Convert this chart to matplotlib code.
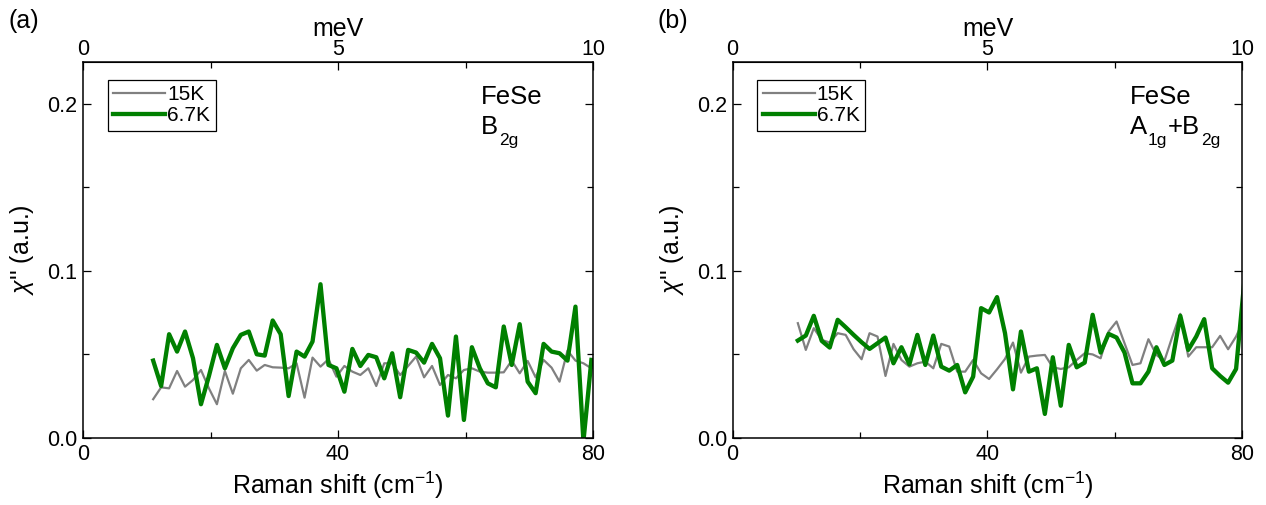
import matplotlib
matplotlib.use("Agg")
import matplotlib.pyplot as plt
from matplotlib.ticker import FixedLocator, FormatStrFormatter

plt.rcParams["font.family"] = ["Liberation Sans", "DejaVu Sans"]
plt.rcParams["mathtext.fontset"] = "custom"
plt.rcParams["mathtext.rm"] = "Liberation Sans"
plt.rcParams["mathtext.it"] = "Liberation Sans:italic"

# ── Panel (a): B2g ──────────────────────────────────────────────────────────
shift_a = [11.0, 12.25, 13.5, 14.75, 16.0, 17.25, 18.5, 19.75, 21.0, 22.25,
           23.5, 24.75, 26.0, 27.25, 28.5, 29.75, 31.0, 32.25, 33.5, 34.75,
           36.0, 37.25, 38.5, 39.75, 41.0, 42.25, 43.5, 44.75, 46.0, 47.25,
           48.5, 49.75, 51.0, 52.25, 53.5, 54.75, 56.0, 57.25, 58.5, 59.75,
           61.0, 62.25, 63.5, 64.75, 66.0, 67.25, 68.5, 69.75, 71.0, 72.25,
           73.5, 74.75, 76.0, 77.25, 78.5, 79.75]
chi_a_15K = [0.0232, 0.0303, 0.0297, 0.0401, 0.0307, 0.0347, 0.0407, 0.0297, 0.0202, 0.0401,
             0.0265, 0.0417, 0.0467, 0.0403, 0.0437, 0.0423, 0.0421, 0.0417, 0.0447, 0.0241,
             0.0481, 0.0427, 0.0471, 0.0367, 0.0431, 0.0397, 0.0377, 0.0417, 0.0311, 0.0447,
             0.0447, 0.0377, 0.0431, 0.0487, 0.0363, 0.0431, 0.0317, 0.0377, 0.0357, 0.0407,
             0.0417, 0.0397, 0.0391, 0.0391, 0.0393, 0.0463, 0.0387, 0.0461, 0.0363, 0.0467,
             0.0421, 0.0337, 0.0523, 0.0463, 0.0447, 0.0417]
chi_a_67K = [0.0463, 0.0311, 0.0621, 0.0517, 0.0637, 0.0477, 0.0202, 0.0371, 0.0557, 0.0417,
             0.0537, 0.0617, 0.0637, 0.0501, 0.0493, 0.0703, 0.0621, 0.0251, 0.0517, 0.0487,
             0.0577, 0.0920, 0.0437, 0.0417, 0.0277, 0.0533, 0.0431, 0.0497, 0.0483, 0.0357,
             0.0507, 0.0244, 0.0527, 0.0511, 0.0451, 0.0563, 0.0477, 0.0134, 0.0607, 0.0108,
             0.0543, 0.0417, 0.0327, 0.0303, 0.0667, 0.0437, 0.0681, 0.0337, 0.0268, 0.0563,
             0.0517, 0.0507, 0.0463, 0.0786, -0.0020, 0.0467]

# ── Panel (b): A1g+B2g ──────────────────────────────────────────────────────
shift_b = [10.25, 11.5, 12.75, 14.0, 15.25, 16.5, 17.75, 19.0, 20.25, 21.5,
           22.75, 24.0, 25.25, 26.5, 27.75, 29.0, 30.25, 31.5, 32.75, 34.0,
           35.25, 36.5, 37.75, 39.0, 40.25, 41.5, 42.75, 44.0, 45.25, 46.5,
           47.75, 49.0, 50.25, 51.5, 52.75, 54.0, 55.25, 56.5, 57.75, 59.0,
           60.25, 61.5, 62.75, 64.0, 65.25, 66.5, 67.75, 69.0, 70.25, 71.5,
           72.75, 74.0, 75.25, 76.5, 77.75, 79.0, 80.25]
chi_b_15K = [0.0687, 0.0527, 0.0657, 0.0587, 0.0571, 0.0627, 0.0617, 0.0531, 0.0471, 0.0627,
             0.0607, 0.0371, 0.0563, 0.0467, 0.0427, 0.0447, 0.0457, 0.0417, 0.0563, 0.0547,
             0.0397, 0.0397, 0.0467, 0.0387, 0.0353, 0.0411, 0.0473, 0.0571, 0.0391, 0.0487,
             0.0493, 0.0497, 0.0423, 0.0413, 0.0423, 0.0467, 0.0507, 0.0500, 0.0477, 0.0637,
             0.0697, 0.0567, 0.0437, 0.0447, 0.0591, 0.0497, 0.0461, 0.0607, 0.0743, 0.0487,
             0.0543, 0.0543, 0.0543, 0.0611, 0.0531, 0.0607, 0.0711]
chi_b_67K = [0.0583, 0.0613, 0.0731, 0.0581, 0.0541, 0.0707, 0.0663, 0.0617, 0.0573, 0.0533,
             0.0567, 0.0601, 0.0447, 0.0543, 0.0441, 0.0617, 0.0437, 0.0613, 0.0427, 0.0403,
             0.0437, 0.0273, 0.0367, 0.0777, 0.0751, 0.0843, 0.0627, 0.0291, 0.0637, 0.0397,
             0.0417, 0.0144, 0.0483, 0.0193, 0.0557, 0.0423, 0.0451, 0.0737, 0.0511, 0.0623,
             0.0601, 0.0511, 0.0327, 0.0327, 0.0397, 0.0543, 0.0437, 0.0463, 0.0731, 0.0527,
             0.0607, 0.0711, 0.0417, 0.0371, 0.0331, 0.0413, 0.0920]

# tick positions
shift_major = [0, 40, 80]
shift_minor = [20, 60]
mev_major = [0, 5, 10]
mev_minor = [2.5, 7.5]
chi_major = [0.0, 0.1, 0.2]
chi_minor = [0.05, 0.15]

TICK_FS = 15.5
LABEL_FS = 18
SYM_FS = 18.5
SUB_FS = 12.5

# glyph advance widths (em) for Liberation Sans, used to chain the symmetry label
GLYPH_W = {"A": 0.667, "B": 0.667, "+": 0.584, "1": 0.556, "2": 0.556, "g": 0.556}


def symmetry_label(ax, x, y, parts):
    """Write e.g. A_1g+B_2g as a chain of normal/subscript pieces."""
    offset = 0.0
    for txt, is_sub in parts:
        fs = SUB_FS if is_sub else SYM_FS
        ax.annotate(txt, xy=(x, y), xycoords="axes fraction",
                    xytext=(offset, -7.5 if is_sub else 0), textcoords="offset points",
                    fontsize=fs, va="baseline", ha="left")
        offset += sum(GLYPH_W[c] for c in txt) * fs + 0.5


def draw_panel(ax, x, y_hi, y_lo, sym_parts, tag):
    ax.plot(x, y_hi, color="#808080", lw=1.6, label="15K")
    ax.plot(x, y_lo, color="#008000", lw=3.1, label="6.7K")

    ax.set_xlim(0, 80)
    ax.set_ylim(0, 0.225)
    ax.xaxis.set_major_locator(FixedLocator(shift_major))
    ax.xaxis.set_minor_locator(FixedLocator(shift_minor))
    ax.yaxis.set_major_locator(FixedLocator(chi_major))
    ax.yaxis.set_minor_locator(FixedLocator(chi_minor))
    ax.yaxis.set_major_formatter(FormatStrFormatter("%.1f"))
    ax.tick_params(which="both", direction="in", right=True, top=False,
                   labelsize=TICK_FS, width=0.9, pad=4)
    ax.tick_params(which="major", length=6)
    ax.tick_params(which="minor", length=4)
    for sp in ax.spines.values():
        sp.set_linewidth(1.1)

    ax.set_xlabel(r"Raman shift (cm$^{\mathregular{-1}}$)", fontsize=LABEL_FS, labelpad=4)
    ax.set_ylabel(r"$\chi$'' (a.u.)", fontsize=LABEL_FS)
    ax.yaxis.set_label_coords(-0.092, 0.5)

    top = ax.secondary_xaxis("top", functions=(lambda v: v / 8.0, lambda v: v * 8.0))
    top.xaxis.set_major_locator(FixedLocator(mev_major))
    top.xaxis.set_minor_locator(FixedLocator(mev_minor))
    top.tick_params(which="both", direction="in", labelsize=TICK_FS, width=0.9, pad=1.5)
    top.tick_params(which="major", length=6)
    top.tick_params(which="minor", length=4)
    top.set_xlabel("meV", fontsize=LABEL_FS, labelpad=2)

    leg = ax.legend(loc="upper left", bbox_to_anchor=(0.049, 0.952), borderaxespad=0,
                    fontsize=15, fancybox=False, edgecolor="black", framealpha=1,
                    handlelength=2.5, handletextpad=0.1, borderpad=0.25,
                    labelspacing=0.1)
    leg.get_frame().set_linewidth(0.9)

    ax.text(0.78, 0.888, "FeSe", transform=ax.transAxes, fontsize=SYM_FS, va="baseline")
    symmetry_label(ax, 0.78, 0.808, sym_parts)

    ax.figure.text(ax.get_position().x0 - 0.059, 0.958, tag, fontsize=LABEL_FS,
                   va="center", ha="left")


fig = plt.figure(figsize=(12.66, 5.05), dpi=100)
ax_a = fig.add_axes([0.0656, 0.1327, 0.4028, 0.7446])
ax_b = fig.add_axes([0.5786, 0.1327, 0.4028, 0.7446])

draw_panel(ax_a, shift_a, chi_a_15K, chi_a_67K,
           [("B", False), ("2g", True)], "(a)")
draw_panel(ax_b, shift_b, chi_b_15K, chi_b_67K,
           [("A", False), ("1g", True), ("+B", False), ("2g", True)], "(b)")

fig.savefig("out.png", dpi=100)
